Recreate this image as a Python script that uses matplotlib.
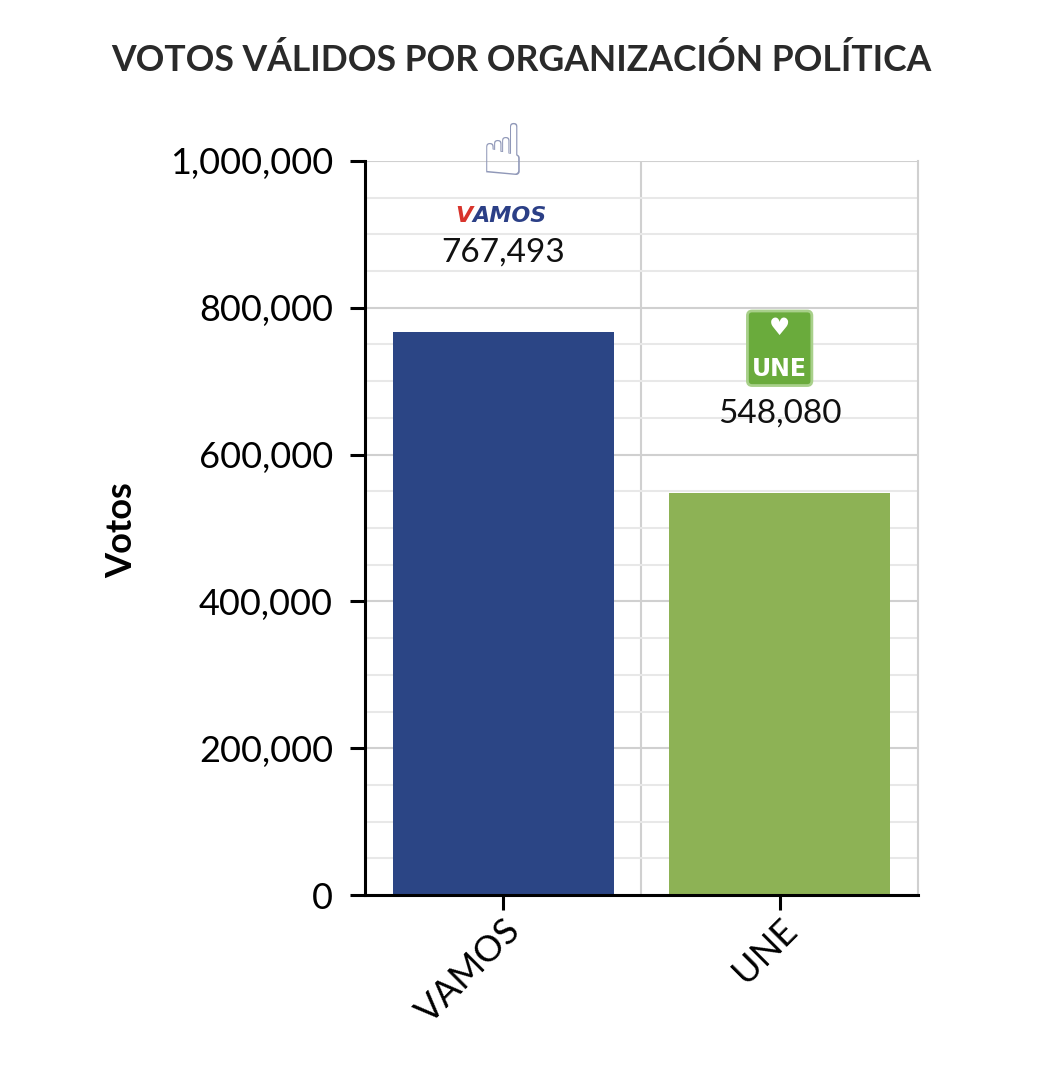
import numpy as np
import matplotlib.pyplot as plt
from matplotlib.ticker import FuncFormatter, MultipleLocator

# data
partidos = ['VAMOS', 'UNE']
votos = [767493, 548080]
colores = ['#2b4585', '#8db255']
yticks = [0, 200000, 400000, 600000, 800000, 1000000]

plt.rcParams['font.family'] = ['Lato', 'DejaVu Sans']

fig = plt.figure(figsize=(10.55, 10.79), dpi=100)
ax = fig.add_axes([0.346, 0.1705, 0.524, 0.6803])

x = np.arange(len(partidos))
ax.bar(x, votos, width=0.8, color=colores, zorder=2)

ax.set_xlim(-0.5, 1.5)
ax.set_ylim(0, 1000000)
ax.set_yticks(yticks)
ax.yaxis.set_minor_locator(MultipleLocator(50000))
ax.yaxis.set_major_formatter(FuncFormatter(lambda v, p: f'{int(v):,}'))
ax.set_xticks(x)
ax.set_xticklabels(partidos, rotation=45, ha='right', rotation_mode='anchor', fontsize=26)

# grid
ax.grid(axis='y', which='major', color='#d0d0d0', lw=1.5, zorder=0)
ax.grid(axis='y', which='minor', color='#e8e8e8', lw=1.5, zorder=0)
ax.axvline(0.5, color='#d0d0d0', lw=1.5, zorder=0)

ax.spines['top'].set_visible(False)
ax.spines['right'].set_color('#d0d0d0')
ax.spines['right'].set_linewidth(1.5)
ax.spines['left'].set_linewidth(2.2)
ax.spines['bottom'].set_linewidth(2.2)
ax.tick_params(axis='y', which='major', length=11, width=2.2, labelsize=26, pad=12)
ax.tick_params(axis='y', which='minor', length=0)
ax.tick_params(axis='x', length=11, width=2.2, pad=2)

ax.set_ylabel('Votos', fontsize=26, fontweight='bold')
ax.yaxis.label.set_va('center')
ax.yaxis.set_label_coords(-0.44, 0.497)

# value labels
for xi, v in zip(x, votos):
    ax.annotate(f'{v:,}', (xi, v), xytext=(0, 57), textcoords='offset points',
                ha='center', va='center', fontsize=24, color='#111111', zorder=5)

# logo VAMOS (mano + texto, V en rojo)
ax.annotate('\u261d', (0, votos[0]), xytext=(0, 127), textcoords='offset points',
            ha='center', va='center', fontsize=52, color='#9098b8',
            family=['DejaVu Sans'], annotation_clip=False, zorder=5)
ax.annotate('AMOS', (0, votos[0]), xytext=(-22, 83), textcoords='offset points',
            ha='left', va='center', fontsize=16, fontweight='heavy', style='italic',
            color='#2b3f86', family=['DejaVu Sans'], zorder=6)
ax.annotate('V', (0, votos[0]), xytext=(-22, 83), textcoords='offset points',
            ha='right', va='center', fontsize=16, fontweight='heavy', style='italic',
            color='#d8342c', family=['DejaVu Sans'], zorder=7)

# logo UNE
ax.annotate('\u2665\nUNE', (1, votos[1]), xytext=(0, 104), textcoords='offset points',
            ha='center', va='center', fontsize=17, fontweight='heavy',
            color='white', family=['DejaVu Sans'], linespacing=1.9, zorder=6,
            bbox=dict(boxstyle='round,pad=0.2', fc='#6aab3c', ec='#a8d08a', lw=2))

fig.text(0.494, 0.944, 'VOTOS VÁLIDOS POR ORGANIZACIÓN POLÍTICA', ha='center', va='center',
         fontsize=25.6, fontweight='bold', color='#2a2a2a')

fig.savefig('out.png', dpi=100, facecolor='white')
